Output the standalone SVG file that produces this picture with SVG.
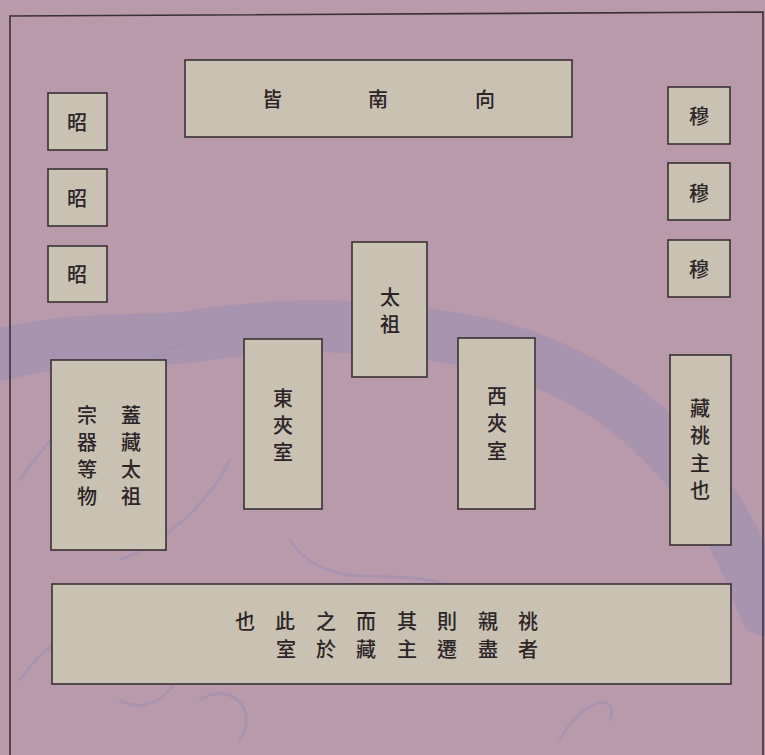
<svg xmlns="http://www.w3.org/2000/svg" width="765" height="755" viewBox="0 0 765 755">
<style>
.box{fill:#c9c1b1;stroke:#3a3035;stroke-width:1.6}
.t{font-family:"Noto Sans CJK TC","Noto Sans CJK SC",sans-serif;font-size:20px;font-weight:500;fill:#2b2528;text-anchor:middle;dominant-baseline:central}
.deco{fill:none;stroke:#9d90b2;stroke-linecap:round;opacity:0.55}
</style>
<rect width="765" height="755" fill="#b99aab"/>
<g id="background-swirl">
<path class="deco" stroke-width="52" d="M0,355 C60,338 120,342 180,338 C260,326 330,320 440,336 C540,350 610,390 660,440 C710,490 740,540 765,610"/>
<path class="deco" stroke-width="3" d="M20,480 C60,420 120,370 180,345"/>
<path class="deco" stroke-width="3" d="M120,560 C170,540 210,500 230,460"/>
<path class="deco" stroke-width="3" d="M290,540 C330,600 400,560 460,590"/>
<path class="deco" stroke-width="3" d="M20,680 C60,620 140,600 170,640 C200,680 150,720 120,700"/>
<path class="deco" stroke-width="3" d="M200,700 C230,680 260,710 240,740"/>
<path class="deco" stroke-width="3" d="M560,740 C580,700 620,690 610,720"/>
</g>
<path d="M10,755 L10,16 L763,12 L763,755" fill="none" stroke="#3a3035" stroke-width="1.6"/>
<g id="south-facing">
<rect class="box" x="185" y="60" width="387" height="77"/>
<text class="t" x="272" y="98">皆</text>
<text class="t" x="378" y="98">南</text>
<text class="t" x="485" y="98">向</text>
</g>
<g id="zhao-1"><rect class="box" x="48" y="93" width="59" height="57"/><text class="t" x="77" y="121">昭</text></g>
<g id="zhao-2"><rect class="box" x="48" y="169" width="59" height="57"/><text class="t" x="77" y="197">昭</text></g>
<g id="zhao-3"><rect class="box" x="48" y="246" width="59" height="56"/><text class="t" x="77" y="273">昭</text></g>
<g id="mu-1"><rect class="box" x="668" y="87" width="62" height="57"/><text class="t" x="699" y="115">穆</text></g>
<g id="mu-2"><rect class="box" x="668" y="163" width="62" height="57"/><text class="t" x="699" y="192">穆</text></g>
<g id="mu-3"><rect class="box" x="668" y="240" width="62" height="57"/><text class="t" x="699" y="268">穆</text></g>
<g id="taizu">
<rect class="box" x="352" y="242" width="75" height="135"/>
<text class="t" x="390" y="296">太</text>
<text class="t" x="390" y="323">祖</text>
</g>
<g id="east-chamber">
<rect class="box" x="244" y="339" width="78" height="170"/>
<text class="t" x="283" y="397">東</text>
<text class="t" x="283" y="424">夾</text>
<text class="t" x="283" y="451">室</text>
</g>
<g id="west-chamber">
<rect class="box" x="458" y="338" width="77" height="171"/>
<text class="t" x="497" y="395">西</text>
<text class="t" x="497" y="422">夾</text>
<text class="t" x="497" y="450">室</text>
</g>
<g id="left-note">
<rect class="box" x="51" y="360" width="115" height="190"/>
<text class="t" x="131" y="414">蓋</text>
<text class="t" x="131" y="441">藏</text>
<text class="t" x="131" y="468">太</text>
<text class="t" x="131" y="495">祖</text>
<text class="t" x="87" y="414">宗</text>
<text class="t" x="87" y="441">器</text>
<text class="t" x="87" y="468">等</text>
<text class="t" x="87" y="495">物</text>
</g>
<g id="right-note">
<rect class="box" x="670" y="355" width="61" height="190"/>
<text class="t" x="700" y="407">藏</text>
<text class="t" x="700" y="434">祧</text>
<text class="t" x="700" y="462">主</text>
<text class="t" x="700" y="489">也</text>
</g>
<g id="bottom-note">
<rect class="box" x="52" y="584" width="679" height="100"/>
<text class="t" x="245" y="620">也</text>
<text class="t" x="285" y="620">此</text>
<text class="t" x="326" y="620">之</text>
<text class="t" x="366" y="620">而</text>
<text class="t" x="407" y="620">其</text>
<text class="t" x="447" y="620">則</text>
<text class="t" x="488" y="620">親</text>
<text class="t" x="528" y="620">祧</text>
<text class="t" x="286" y="648">室</text>
<text class="t" x="326" y="648">於</text>
<text class="t" x="366" y="648">藏</text>
<text class="t" x="407" y="648">主</text>
<text class="t" x="447" y="648">遷</text>
<text class="t" x="488" y="648">盡</text>
<text class="t" x="528" y="648">者</text>
</g>
<g id="connectors"></g>
</svg>
